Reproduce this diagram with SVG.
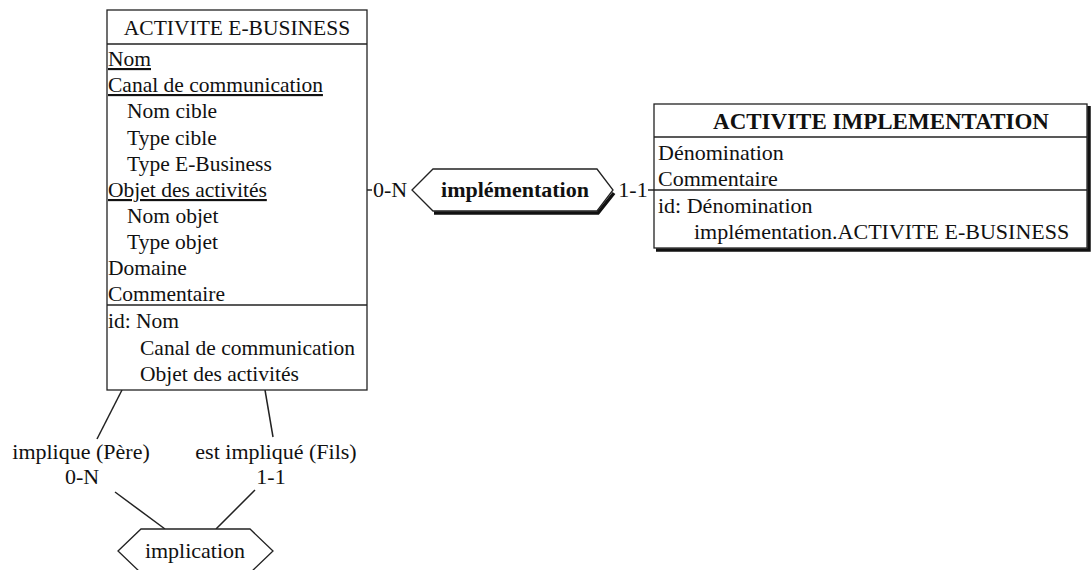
<svg xmlns="http://www.w3.org/2000/svg" width="1092" height="570" viewBox="0 0 1092 570">
  <style>
    text { font-family: "Liberation Serif", "Times New Roman", serif; font-size: 21.5px; fill: #111; }
    .big { font-size: 22px; }
    .head { font-size: 23px; }
    .b { font-weight: bold; }
    .u { text-decoration: underline; }
    .mid { text-anchor: middle; }
    .box { fill: #fff; stroke: #222; stroke-width: 1.3; }
    .sep { stroke: #222; stroke-width: 1.3; }
    .shadow { fill: none; stroke: #111; stroke-width: 3.5; }
    .link { fill: none; stroke: #222; stroke-width: 1.5; }
  </style>
  <rect width="1092" height="570" fill="#fff"/>

  <!-- connectors -->
  <g id="connectors">
    <line class="link" x1="367" y1="190" x2="372" y2="190"/>
    <line class="link" x1="648" y1="190" x2="654" y2="190"/>
    <line class="link" x1="122" y1="390" x2="97" y2="439"/>
    <line class="link" x1="265" y1="390" x2="273" y2="437"/>
    <line class="link" x1="115" y1="492" x2="165" y2="529"/>
    <line class="link" x1="255" y1="490" x2="216" y2="529"/>
    <text x="390" y="197" class="big mid">0-N</text>
    <text x="633" y="197" class="big mid">1-1</text>
    <text x="81" y="459" class="big mid">implique (Père)</text>
    <text x="82" y="484" class="big mid">0-N</text>
    <text x="276" y="459" class="big mid">est impliqué (Fils)</text>
    <text x="271" y="484" class="big mid">1-1</text>
  </g>

  <!-- entity ACTIVITE E-BUSINESS -->
  <g id="activite-ebusiness">
    <rect class="box" x="107" y="10" width="260" height="380"/>
    <line class="sep" x1="107" y1="44" x2="367" y2="44"/>
    <line class="sep" x1="107" y1="305" x2="367" y2="305"/>
    <text x="237" y="35" class="mid">ACTIVITE E-BUSINESS</text>
    <text x="108" y="66" class="u">Nom</text>
    <text x="108" y="92" class="u">Canal de communication</text>
    <text x="127" y="118">Nom cible</text>
    <text x="127" y="145">Type cible</text>
    <text x="127" y="171">Type E-Business</text>
    <text x="108" y="197" class="u">Objet des activités</text>
    <text x="127" y="223">Nom objet</text>
    <text x="127" y="249">Type objet</text>
    <text x="108" y="275">Domaine</text>
    <text x="108" y="301">Commentaire</text>
    <text x="108" y="328">id: Nom</text>
    <text x="140" y="355">Canal de communication</text>
    <text x="140" y="381">Objet des activités</text>
  </g>

  <!-- entity ACTIVITE IMPLEMENTATION -->
  <g id="activite-implementation">
    <polyline class="shadow" points="1089,106 1089,250 656,250"/>
    <rect class="box" x="654" y="104" width="433" height="144"/>
    <line class="sep" x1="654" y1="137" x2="1087" y2="137"/>
    <line class="sep" x1="654" y1="190" x2="1087" y2="190"/>
    <text x="881" y="129" class="head b mid">ACTIVITE IMPLEMENTATION</text>
    <text x="658" y="160" class="big">Dénomination</text>
    <text x="658" y="186" class="big">Commentaire</text>
    <text x="658" y="213" class="big">id: Dénomination</text>
    <text x="694" y="239" class="big">implémentation.ACTIVITE E-BUSINESS</text>
  </g>

  <!-- relationship implémentation -->
  <g id="rel-implementation">
    <polyline class="shadow" points="614,193 598,213 434,213"/>
    <polygon class="box" points="412,190 433,169 597,169 613,190 597,211 433,211"/>
    <text x="515" y="197" class="big b mid">implémentation</text>
  </g>

  <!-- relationship implication -->
  <g id="rel-implication">
    <polygon class="box" points="118,551 141,529 250,529 273,551 250,573 141,573"/>
    <text x="195" y="558" class="big mid">implication</text>
  </g>
</svg>
